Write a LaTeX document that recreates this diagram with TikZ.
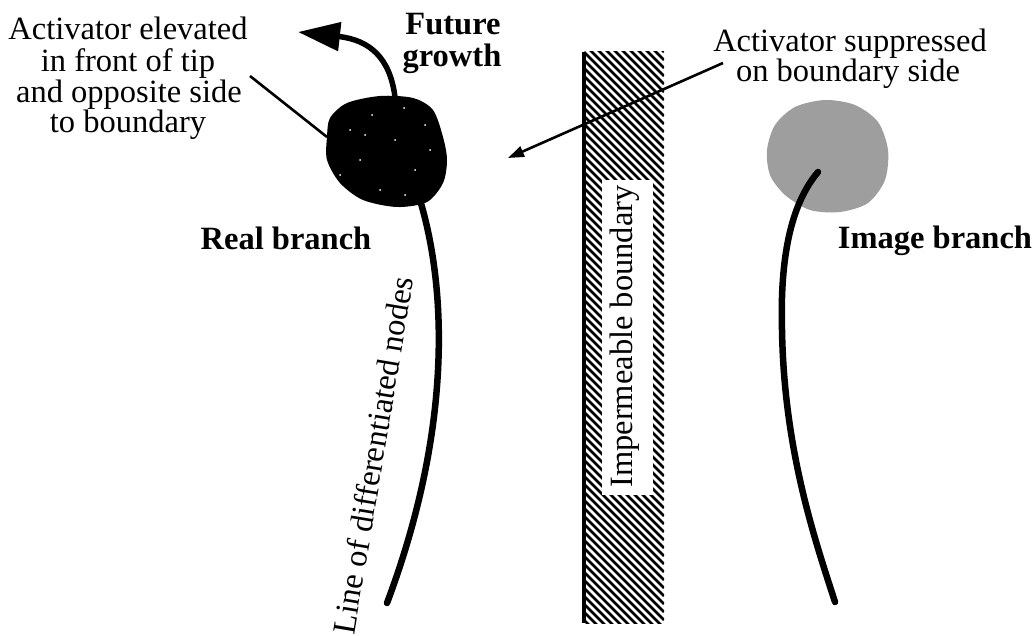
\documentclass[tikz,border=0pt]{standalone}
\usepackage{fontspec}
\setmainfont{Liberation Serif}
\usetikzlibrary{arrows.meta}
\begin{document}
\begin{tikzpicture}[x=1pt,y=-1pt,
  lbl/.style={font=\fontsize{32.5}{31}\selectfont, inner sep=0pt, anchor=base},
  blbl/.style={font=\fontsize{32.5}{31}\selectfont\bfseries, inner sep=0pt, anchor=base},
  branch/.style={line width=6.5pt, line cap=round},
  leader/.style={line width=2.6pt},
  hatchline/.style={line width=2.5pt}]
\useasboundingbox (0,0) rectangle (1035,636);

% ---- impermeable boundary ----
\begin{scope}
  \clip (584,52) rectangle (664,623);
  \foreach \k in {-88,-80,...,576} \draw[hatchline] (584,52+\k) -- ++(80,80);
\end{scope}
\fill[white] (602,180) rectangle (653,495);
\draw[line width=3.2pt] (584,52) -- (584,623);
\node[lbl, rotate=90] (bnd) at (632,336.5) {Impermeable boundary};

% ---- real branch ----
\coordinate (rbtop) at (420,200);
\coordinate (rbend) at (387,603);
\draw[branch] (rbtop) .. controls (447,290) and (452,430) .. (rbend);
\fill[black] plot[smooth cycle] coordinates {(330,118) (347,103) (380,96) (413,98) (433,110) (443,137) (447,160) (443,183) (427,202) (397,207) (363,200) (340,183) (327,160) (327,137)};
\foreach \p in {(350,130),(372,115),(404,108),(425,125),(360,160),(395,140),(415,170),(340,175),(380,190),(430,150),(405,195),(365,135)}
  \fill[white] \p circle (1pt);
\coordinate (rtip) at (395,97);
\coordinate (growtip) at (298,32);
\draw[line width=5.5pt, -{Triangle[length=42pt,width=28pt]}] (rtip) .. controls (390,58) and (370,40) .. (growtip);

% ---- image branch ----
\fill[black!38] plot[smooth cycle] coordinates {(767,150) (775,125) (795,107) (825,100) (855,105) (878,122) (888,150) (885,180) (868,203) (840,212) (810,210) (785,195) (770,175)};
\coordinate (ibtop) at (818,172);
\coordinate (ibmid) at (782,330);
\coordinate (ibend) at (835,602);
\draw[branch] (ibtop) .. controls (790,205) and (780,260) .. (ibmid) .. controls (784,450) and (815,540) .. (ibend);

% ---- labels ----
\node[lbl] (el1) at (128,40) {Activator elevated};
\node[lbl] (el2) at (128,72) {in front of tip};
\node[lbl] (el3) at (129,103) {and opposite side};
\node[lbl] (el4) at (128,133) {to boundary};
\coordinate (elA) at (250,76);
\coordinate (elB) at (327,137);
\draw[leader] (elA) -- (elB);

\node[blbl] (fg1) at (453,35) {Future};
\node[blbl] (fg2) at (452,67) {growth};

\node[blbl] (rb) at (286,250) {Real branch};
\node[blbl] (ib) at (935,248) {Image branch};

\node[lbl] (su1) at (850,52) {Activator suppressed};
\node[lbl] (su2) at (848,82) {on boundary side};
\coordinate (suA) at (723,63);
\coordinate (suB) at (508,158);
\draw[leader, -{Triangle[length=16pt,width=11pt]}] (suA) -- (suB);

\node[lbl, rotate=80.5] (lnd) at (384,457) {Line of differentiated nodes};
\end{tikzpicture}
\end{document}
